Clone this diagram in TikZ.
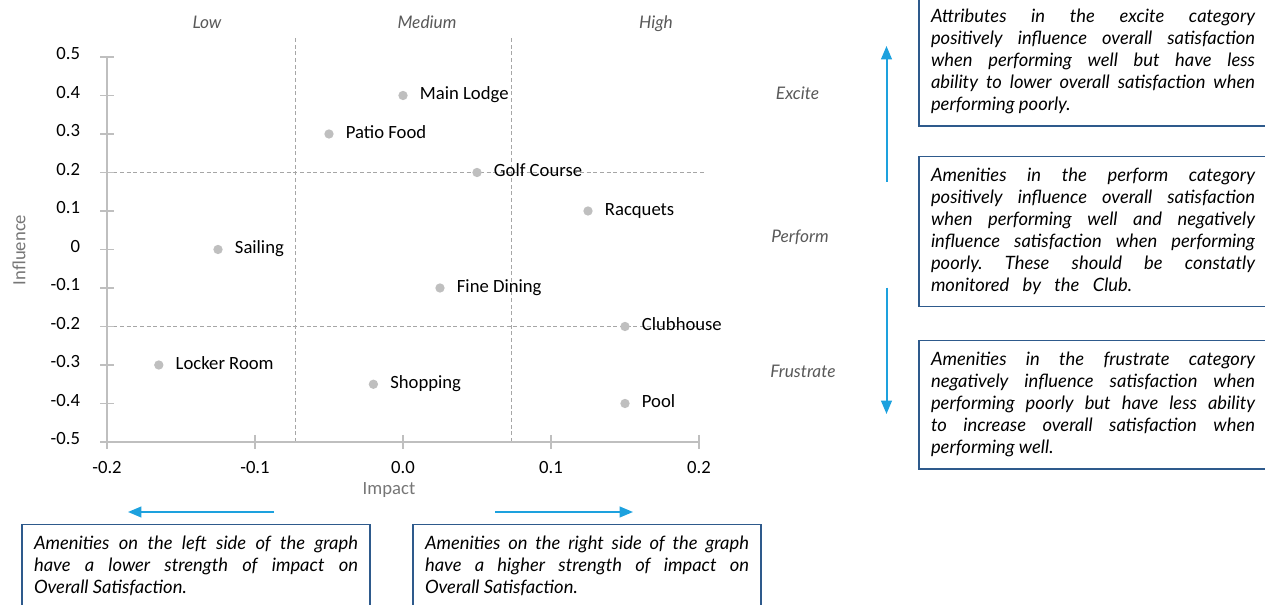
\documentclass[tikz,border=0pt]{standalone}
\usepackage{fontspec}
\setmainfont{Carlito}
\newfontfamily\latofont{Lato}
\usetikzlibrary{arrows.meta}
\definecolor{axisgray}{RGB}{191,191,191}
\definecolor{dotgray}{RGB}{191,191,191}
\definecolor{gridgray}{RGB}{166,166,166}
\definecolor{headgray}{RGB}{89,89,89}
\definecolor{titlegray}{RGB}{118,118,118}
\definecolor{arrowblue}{RGB}{29,161,222}
\definecolor{noteblue}{RGB}{46,90,140}
\hyphenpenalty=10000
\tolerance=9999
\frenchspacing
\tikzset{
  chartfont/.style={font=\fontsize{14}{16}\selectfont},
  ticklabel/.style={chartfont, inner sep=0pt},
  ptlabel/.style={chartfont, inner sep=0pt, anchor=base west, xshift=12.5pt, yshift=-3.2pt},
  band/.style={font=\latofont\itshape\fontsize{13}{15}\selectfont, text=headgray, inner sep=0pt, anchor=base},
  axistitle/.style={chartfont, text=titlegray, inner sep=0pt},
  note/.style={draw=noteblue, line width=0.9pt, text width=243pt, align=justify, inner xsep=9pt, inner ysep=9pt, anchor=text, font=\latofont\itshape\fontsize{13.8}{16.5}\selectfont},
  blue arrow/.style={arrowblue, line width=1.5pt, -{Triangle[length=10pt,width=8pt]}},
  grid dash/.style={gridgray, line width=0.6pt, dash pattern=on 3pt off 2pt}
}
\begin{document}
\begin{tikzpicture}[x=0.75pt,y=-0.75pt]
\useasboundingbox (0,0) rectangle (1265,605);
\clip (0,0) rectangle (1265,605);
\begin{scope}[shift={(403,249.5)},x=1110pt,y=288.75pt]
\draw[grid dash] (-0.073,0.549) -- (-0.073,-0.5);
\draw[grid dash] (0.073,0.549) -- (0.073,-0.5);
\draw[grid dash] (-0.2047,0.2) -- (0.204,0.2);
\draw[grid dash] (-0.2047,-0.2) -- (0.204,-0.2);
\draw[axisgray, line width=0.9pt] (-0.2,0.5) -- (-0.2,-0.5) -- (0.2,-0.5);
\foreach \y/\t/\nm in {0.5/0.5/a, 0.4/0.4/b, 0.3/0.3/c, 0.2/0.2/d, 0.1/0.1/e, 0/0/f, -0.1/-0.1/g, -0.2/-0.2/h, -0.3/-0.3/i, -0.4/-0.4/j, -0.5/-0.5/k}
{
  \draw[axisgray, line width=0.9pt] (-0.2,\y) ++(-5.25pt,0) -- ++(10.5pt,0);
  \node[ticklabel, anchor=base east, xshift=-20pt, yshift=-2.25pt] (ytick\nm) at (-0.2,\y) {\t};
}
\foreach \x/\t/\nm in {-0.2/-0.2/a, -0.1/-0.1/b, 0/0.0/c, 0.1/0.1/d, 0.2/0.2/e}
{
  \draw[axisgray, line width=0.9pt] (\x,-0.5) ++(0,5.25pt) -- ++(0,-10.5pt);
  \node[ticklabel, anchor=base, yshift=-24pt] (xtick\nm) at (\x,-0.5) {\t};
}
\foreach \px/\py/\nm/\lbl in {0/0.4/lodge/Main Lodge, -0.05/0.3/patio/Patio Food, 0.05/0.2/golf/Golf Course, 0.125/0.1/racq/Racquets, -0.125/0/sail/Sailing, 0.025/-0.1/dining/Fine Dining, 0.15/-0.2/club/Clubhouse, -0.165/-0.3/locker/Locker Room, -0.02/-0.35/shop/Shopping, 0.15/-0.4/pool/Pool}
{
  \coordinate (P\nm) at (\px,\py);
  \fill[dotgray] (P\nm) circle (3.5pt);
  \node[ptlabel] (\nm) at (P\nm) {\lbl};
}
\end{scope}
\node[band] (low) at (207,28.3) {Low};
\node[band] (medium) at (427,28.3) {Medium};
\node[band] (high) at (656,28.3) {High};
\node[band] (excite) at (797.5,100) {Excite};
\node[band] (perform) at (800,242.7) {Perform};
\node[band] (frustrate) at (803,377.7) {Frustrate};
\node[axistitle, anchor=base] (impact) at (389,495) {Impact};
\node[axistitle, rotate=90] (influence) at (19,250) {Influence};
\coordinate (LA) at (274,512);
\coordinate (LB) at (128,512);
\coordinate (RA) at (495,512);
\coordinate (RB) at (633,512);
\coordinate (UA) at (886.5,181.7);
\coordinate (UB) at (886.5,46);
\coordinate (DA) at (886.5,287.7);
\coordinate (DB) at (886.5,414);
\draw[blue arrow] (LA) -- (LB);
\draw[blue arrow] (RA) -- (RB);
\draw[blue arrow] (UA) -- (UB);
\draw[blue arrow] (DA) -- (DB);
\node[note] (excitenote) at (931,22.7) {Attributes in the excite category\linebreak positively influence overall satisfaction\linebreak when performing well but have less\linebreak ability to lower overall satisfaction when\linebreak performing poorly.};
\node[note] (performnote) at (931,181.7) {Amenities in the perform category\linebreak positively influence overall satisfaction\linebreak when performing well and negatively\linebreak influence satisfaction when performing\linebreak poorly. These should be constatly\linebreak monitored\hspace{10pt}by\hspace{10pt}the\hspace{10pt}Club.};
\node[note] (frustratenote) at (931,365.7) {Amenities in the frustrate category\linebreak negatively influence satisfaction when\linebreak performing poorly but have less ability\linebreak to increase overall satisfaction when\linebreak performing well.};
\node[note] (leftnote) at (34,550) {Amenities on the left side of the graph\linebreak have a lower strength of impact on\linebreak Overall Satisfaction.};
\node[note] (rightnote) at (425,550) {Amenities on the right side of the graph\linebreak have a higher strength of impact on\linebreak Overall Satisfaction.};
\end{tikzpicture}
\end{document}
